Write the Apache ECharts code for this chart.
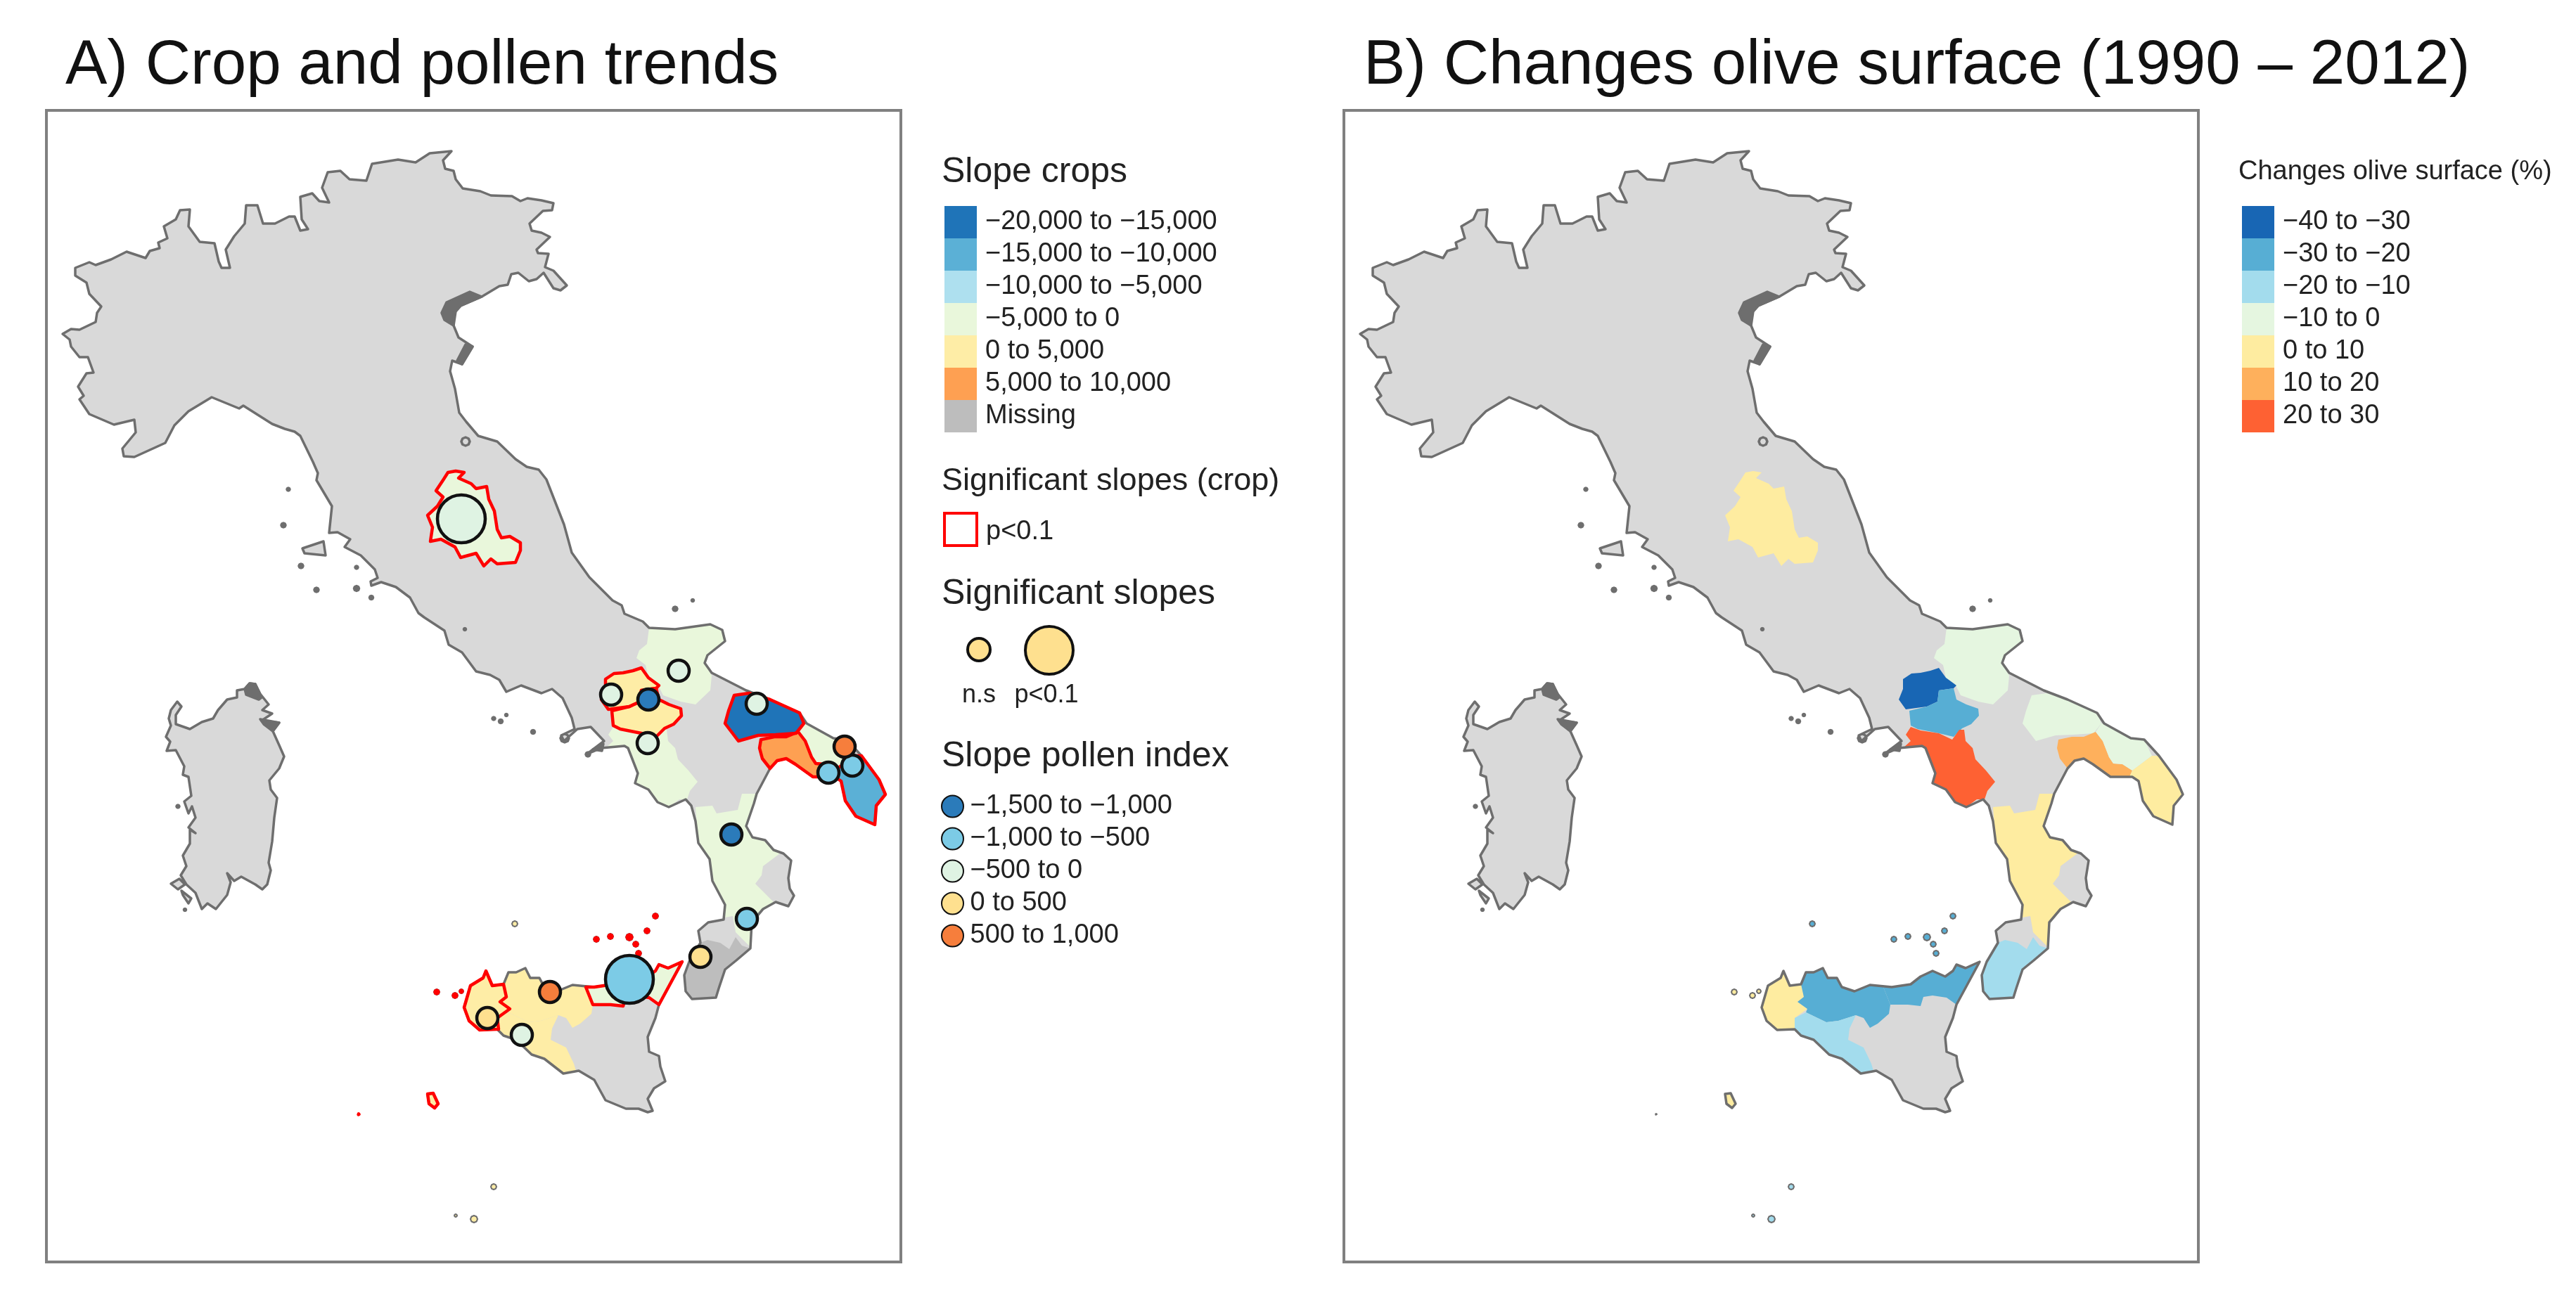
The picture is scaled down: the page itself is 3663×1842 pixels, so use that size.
<!DOCTYPE html>
<html lang="en">
<head>
<meta charset="UTF-8">
<title>Crop and pollen trends</title>
<script src="https://cdn.jsdelivr.net/npm/echarts@6/dist/echarts.min.js"></script>
<style>
  html, body { margin: 0; padding: 0; background: #fff; }
  #main { width: 3663px; height: 1842px; }
</style>
</head>
<body>
<div id="main"></div>
<script>
// province values (class middles, the maps only show classes)
var provinceNames = ['Perugia', 'Foggia', 'Benevento', 'Avellino', 'Salerno', 'Bari', 'Taranto', 'Brindisi', 'Lecce', 'Cosenza', 'Reggio Calabria', 'Trapani', 'Palermo', 'Agrigento', 'Messina'];
var cropSlope = [-2500, -2500, 2500, 2500, -2500, -17500, 7500, -2500, -12500, -2500, null, 2500, 2500, 2500, -2500];
var oliveChange = [5, -5, -35, -25, 25, -5, 15, -5, 5, 5, -15, 5, -25, -15, -25];
var cropSignificant = ['Perugia', 'Benevento', 'Avellino', 'Bari', 'Taranto', 'Lecce', 'Trapani', 'Messina'];

// pollen stations, map units
var stationPos = [[656, 738], [965, 954], [869, 988], [922, 995], [921, 1057], [1076, 1001], [1201, 1062], [1212, 1089], [1178, 1099], [1040, 1187], [1062, 1307], [996, 1361], [895, 1393], [782, 1411], [693, 1448], [742, 1472]];
var stationSlope = [-250, -250, -250, -1250, -250, -250, 750, -750, -750, -1250, -750, 250, -750, 750, 250, -250];
var stationSignificant = [true, false, false, false, false, false, false, false, false, false, false, false, true, false, false, false];

// legend classes
var cropLabels = ['−20,000 to −15,000', '−15,000 to −10,000', '−10,000 to −5,000', '−5,000 to 0', '0 to 5,000', '5,000 to 10,000', 'Missing'];
var cropBreaks = [-20000, -15000, -10000, -5000, 0, 5000, 10000];
var cropColors = ['#1f74b8', '#5bb0d6', '#aee0ef', '#e9f7db', '#feeda6', '#fea052', '#bdbdbd'];
var oliveLabels = ['−40 to −30', '−30 to −20', '−20 to −10', '−10 to 0', '0 to 10', '10 to 20', '20 to 30'];
var oliveBreaks = [-40, -30, -20, -10, 0, 10, 20, 30];
var oliveColors = ['#1866b4', '#57aed4', '#a3dced', '#e5f6e0', '#feeca0', '#feb05c', '#fe6133'];
var pollenLabels = ['−1,500 to −1,000', '−1,000 to −500', '−500 to 0', '0 to 500', '500 to 1,000'];
var pollenBreaks = [-1500, -1000, -500, 0, 500, 1000];
var pollenColors = ['#2b7bba', '#7ccbe6', '#dff3e3', '#fee08f', '#f67e3c'];

// outlines, map units (y runs down the page)
var mainland = [[176,649],[174,638],[193,615],[191,597],[162,604],[127,589],[113,568],[119,563],[111,550],[123,531],[133,530],[125,508],[113,508],[101,493],[99,483],[89,475],[101,468],[113,469],[136,458],[138,445],[144,436],[127,418],[123,402],[107,392],[107,381],[127,373],[136,377],[158,369],[180,358],[207,367],[213,357],[227,353],[225,345],[238,339],[233,322],[250,312],[256,299],[270,298],[268,322],[284,344],[305,346],[311,372],[315,381],[327,381],[321,355],[333,336],[348,318],[350,292],[366,292],[374,318],[391,318],[411,308],[419,308],[427,328],[438,326],[429,312],[427,280],[444,275],[454,286],[468,288],[458,267],[466,245],[484,243],[497,255],[521,257],[529,233],[566,227],[591,231],[611,218],[642,215],[630,228],[633,240],[645,243],[648,255],[658,268],[683,272],[698,278],[728,279],[740,286],[750,282],[770,285],[787,289],[785,299],[772,300],[753,318],[756,328],[770,331],[782,337],[763,355],[765,360],[780,361],[775,380],[787,385],[806,406],[797,413],[787,410],[773,388],[763,397],[752,400],[737,388],[727,390],[722,405],[710,407],[685,422],[655,435],[648,443],[645,463],[652,480],[672,493],[657,518],[643,513],[640,528],[647,553],[653,587],[663,600],[680,620],[707,628],[733,653],[749,664],[766,668],[777,682],[802,746],[813,786],[838,821],[871,854],[884,861],[888,873],[914,884],[923,893],[960,895],[1010,888],[1027,896],[1031,912],[1006,932],[1002,943],[1012,957],[1061,982],[1095,995],[1137,1014],[1147,1029],[1185,1050],[1204,1052],[1225,1075],[1250,1109],[1259,1130],[1246,1146],[1244,1173],[1217,1161],[1202,1139],[1196,1111],[1187,1105],[1156,1105],[1131,1087],[1118,1079],[1105,1082],[1095,1093],[1076,1129],[1072,1143],[1061,1175],[1070,1191],[1088,1195],[1100,1209],[1114,1214],[1125,1224],[1121,1249],[1123,1264],[1129,1274],[1121,1289],[1103,1283],[1085,1293],[1069,1312],[1067,1349],[1047,1366],[1031,1379],[1022,1406],[1018,1419],[984,1421],[975,1410],[973,1387],[980,1368],[996,1341],[993,1324],[1007,1312],[1029,1308],[1031,1287],[1013,1253],[1009,1222],[993,1199],[989,1168],[983,1146],[975,1137],[951,1148],[935,1141],[922,1123],[903,1114],[907,1100],[893,1064],[888,1061],[855,1064],[834,1073],[859,1054],[840,1034],[821,1037],[802,1054],[798,1046],[817,1037],[813,1021],[800,993],[785,980],[770,986],[741,975],[720,984],[710,967],[697,960],[677,955],[657,928],[638,917],[632,897],[603,878],[595,872],[583,850],[563,835],[542,828],[528,833],[527,827],[537,822],[533,810],[513,790],[490,778],[498,767],[480,757],[468,758],[472,720],[450,683],[452,673],[445,657],[427,620],[419,614],[405,610],[387,603],[346,577],[340,581],[301,565],[268,585],[248,605],[235,630],[191,650]];
var sicily = [[970,1368],[950,1377],[937,1372],[932,1381],[921,1389],[903,1381],[886,1389],[872,1400],[845,1404],[814,1401],[792,1410],[774,1404],[767,1391],[754,1391],[747,1377],[734,1383],[723,1383],[716,1400],[700,1402],[691,1381],[687,1391],[669,1402],[660,1433],[667,1452],[682,1465],[707,1464],[716,1473],[734,1479],[756,1500],[774,1506],[801,1527],[823,1523],[845,1536],[861,1565],[890,1577],[908,1577],[921,1582],[928,1580],[921,1563],[930,1548],[946,1538],[939,1517],[937,1502],[923,1496],[921,1475],[932,1448],[937,1429]];
var sardinia = [[243,1032],[240,1022],[243,1010],[252,998],[258,1005],[250,1017],[250,1030],[270,1037],[287,1027],[303,1022],[310,1010],[323,995],[337,992],[337,982],[348,980],[355,972],[363,973],[370,987],[382,1002],[373,1010],[387,1015],[372,1025],[397,1028],[388,1040],[397,1060],[404,1076],[397,1093],[383,1110],[385,1123],[394,1135],[390,1163],[387,1197],[382,1227],[385,1238],[380,1258],[373,1265],[363,1258],[343,1247],[333,1253],[323,1242],[328,1255],[323,1273],[307,1293],[295,1285],[287,1293],[278,1270],[265,1258],[257,1245],[265,1232],[260,1217],[270,1200],[270,1180],[278,1185],[268,1177],[278,1163],[273,1147],[268,1157],[262,1140],[272,1132],[268,1105],[260,1102],[262,1090],[250,1067],[237,1068],[242,1055],[236,1048]];
var santAntioco = [[243,1257],[255,1250],[263,1258],[253,1265]];
var sanPietro = [[258,1267],[272,1278],[268,1285],[260,1273]];
var elba = [[430,780],[460,770],[463,790],[433,787]];
var pantelleria = [[608,1556],[616,1555],[623,1570],[618,1576],[610,1570]];
// small islands as [x, y, radius]
var ringIslands = [[662,628,6],[803,1050,6]];
var smallIslands = [[410,696,2],[403,747,3],[428,805,3],[450,839,3],[507,837,3.5],[528,850,2.5],[507,807,2],[661,895,1.5],[702,1022,2],[712,1026,2.5],[720,1017,1.5],[758,1041,2.5],[836,1073,3],[960,866,3],[985,854,1.5],[253,1147,2],[263,1294,1.5]];
var trapaniIslands = [[621,1411,4],[647,1416,4],[656,1410,3],[510,1585,1]];
var palermoIslands = [[732,1314,4]];
var agrigentoIslands = [[702,1688,4],[648,1729,2],[674,1734,5]];
var messinaIslands = [[848,1336,4],[868,1332,4],[895,1333,5],[904,1343,4],[908,1356,4],[920,1324,4],[932,1303,4]];
var darkLagoons = [[[668,415],[685,422],[655,435],[645,445],[645,463],[632,455],[628,445],[635,430]], [[672,493],[657,518],[650,513],[662,490]], [[348,980],[355,972],[363,973],[372,992],[368,995],[350,988]], [[370,1023],[397,1028],[388,1040],[375,1030]], [[843,1066],[858,1058],[856,1068]]];
var provinceShapes = {
  'Perugia': [[[637,672],[648,670],[660,672],[652,680],[670,688],[677,695],[692,692],[695,710],[703,727],[707,753],[713,765],[725,763],[740,772],[740,783],[733,800],[707,802],[698,795],[688,805],[677,787],[655,793],[647,778],[627,767],[612,770],[615,750],[608,733],[622,720],[630,707],[620,698],[630,683]]],
  'Foggia': [[[923,893],[960,895],[1010,888],[1027,896],[1031,912],[1006,932],[1002,943],[1012,961],[1010,982],[989,1002],[968,998],[943,989],[935,973],[922,964],[918,946],[905,936],[909,925],[920,916]]],
  'Benevento': [[[861,966],[873,958],[886,957],[900,954],[912,950],[922,964],[937,975],[933,979],[912,982],[910,998],[895,1005],[865,1009],[855,995],[861,980]]],
  'Avellino': [[[912,982],[933,979],[937,995],[951,1002],[968,1008],[969,1018],[958,1030],[945,1036],[933,1048],[912,1043],[882,1037],[872,1032],[870,1011],[895,1005],[910,998]]],
  'Salerno': [[[872,1034],[886,1039],[912,1043],[931,1052],[941,1038],[948,1038],[950,1054],[960,1064],[964,1080],[979,1096],[992,1112],[981,1125],[977,1137],[966,1137],[951,1148],[935,1141],[922,1123],[903,1114],[907,1100],[893,1064],[888,1061],[861,1064],[872,1054],[865,1045]]],
  'Bari': [[[1044,989],[1065,986],[1095,995],[1137,1014],[1143,1029],[1132,1043],[1103,1045],[1078,1046],[1050,1054],[1031,1029],[1036,1011]]],
  'Taranto': [[[1082,1052],[1101,1048],[1118,1048],[1135,1041],[1145,1054],[1154,1077],[1160,1086],[1173,1087],[1187,1096],[1183,1105],[1156,1105],[1131,1087],[1118,1079],[1105,1082],[1095,1093],[1084,1079],[1080,1064]]],
  'Brindisi': [[[1143,1029],[1147,1029],[1185,1050],[1204,1052],[1215,1075],[1187,1096],[1173,1087],[1160,1086],[1154,1077],[1145,1054],[1135,1041]]],
  'Lecce': [[[1215,1075],[1225,1075],[1250,1109],[1259,1130],[1246,1146],[1244,1173],[1217,1161],[1202,1139],[1196,1111],[1187,1105],[1183,1105],[1187,1096]]],
  'Cosenza': [[[989,1148],[1013,1146],[1019,1157],[1049,1152],[1055,1129],[1076,1129],[1072,1143],[1061,1175],[1070,1191],[1088,1195],[1100,1209],[1109,1214],[1085,1232],[1083,1245],[1074,1257],[1085,1268],[1100,1283],[1085,1293],[1069,1312],[1067,1347],[1055,1335],[1046,1326],[1042,1303],[1031,1305],[1031,1287],[1013,1253],[1009,1222],[993,1199]]],
  'Reggio Calabria': [[[1006,1337],[1024,1341],[1037,1350],[1046,1333],[1055,1345],[1067,1349],[1047,1366],[1031,1379],[1022,1406],[1018,1419],[984,1421],[975,1410],[973,1387],[980,1368],[996,1341]]],
  'Trapani': [[[716,1400],[720,1418],[711,1425],[725,1435],[707,1448],[709,1464],[707,1464],[682,1465],[667,1452],[660,1433],[669,1402],[687,1391],[691,1381],[700,1402]], pantelleria],
  'Palermo': [[[716,1400],[723,1383],[734,1383],[747,1377],[754,1391],[767,1391],[774,1404],[792,1410],[814,1401],[833,1404],[843,1429],[841,1442],[825,1456],[814,1462],[805,1448],[794,1444],[769,1452],[752,1454],[723,1440],[725,1435],[711,1425],[720,1418]]],
  'Agrigento': [[[707,1448],[723,1440],[752,1454],[769,1452],[794,1444],[785,1463],[783,1479],[805,1490],[816,1513],[819,1523],[801,1527],[774,1506],[756,1500],[734,1479],[716,1473],[707,1464]]],
  'Messina': [[[833,1404],[845,1404],[872,1400],[886,1389],[903,1381],[921,1389],[932,1381],[937,1372],[950,1377],[970,1368],[937,1429],[923,1419],[903,1416],[890,1418],[886,1431],[868,1429],[843,1429]]]
};

function toGeo(p) { return [p[0], -p[1]]; }
function closeRing(ring) {
  var out = ring.map(toGeo);
  out.push(out[0].slice());
  return out;
}
function islandRing(d) {
  var ring = [];
  for (var i = 0; i < 8; i++) {
    ring.push([d[0] + d[2] * Math.cos(i * Math.PI / 4), d[1] + d[2] * Math.sin(i * Math.PI / 4)]);
  }
  return ring;
}
function feature(name, rings) {
  return {
    type: 'Feature',
    properties: { name: name },
    geometry: { type: 'MultiPolygon', coordinates: rings.map(function (r) { return [closeRing(r)]; }) }
  };
}
var islandSets = { 'Trapani': trapaniIslands, 'Palermo': palermoIslands, 'Agrigento': agrigentoIslands, 'Messina': messinaIslands };
function provinceRings(name) {
  return provinceShapes[name].concat((islandSets[name] || []).map(islandRing));
}
var provinceIslets = trapaniIslands.concat(palermoIslands, agrigentoIslands, messinaIslands);
var redIslets = trapaniIslands.concat(messinaIslands).map(function (d) { return [d[0], d[1], Math.max(d[2] - 1.5, 0.6)]; });
var landRings = [mainland, sicily, sardinia, santAntioco, sanPietro, elba, pantelleria].concat(ringIslands.map(islandRing));

var fillMap = { type: 'FeatureCollection', features: [feature('Land', landRings)].concat(provinceNames.map(function (n) { return feature(n, provinceRings(n)); })) };
// two map series on one registered map get merged, so each panel has its own name
echarts.registerMap('italy-fill-a', fillMap);
echarts.registerMap('italy-fill-b', fillMap);
echarts.registerMap('italy-coast', { type: 'FeatureCollection', features: [
  feature('Land', landRings), feature('Lagoons', darkLagoons),
  feature('Islets', smallIslands.map(islandRing)), feature('ProvinceIslets', provinceIslets.map(islandRing))
] });
echarts.registerMap('italy-sig', { type: 'FeatureCollection', features: cropSignificant.map(function (n) {
  return feature(n, provinceShapes[n]);
}).concat([feature('RedIslets', redIslets.map(islandRing))]) });

var FONT = '"Liberation Sans", Arial, sans-serif';
var TEXT_COLOR = '#222';
var MISSING = 99999;
var COAST = '#6e6e6e';
var panelTop = 157, panelWidth = 1215, panelHeight = 1638;
var panelALeft = 66, panelBLeft = 1911;
var mapBounds = [toGeo([66, 157]), toGeo([1281, 1795])];
var coastRegions = [
  { name: 'Lagoons', itemStyle: { areaColor: COAST } },
  { name: 'Islets', itemStyle: { areaColor: COAST } },
  { name: 'ProvinceIslets', itemStyle: { borderWidth: 2 } }
];

function head(text, left, top, size, align) {
  return {
    text: text, left: left, top: top, padding: 0, textAlign: align || 'left',
    textStyle: { fontFamily: FONT, fontWeight: 'normal', fontSize: size, color: size > 60 ? '#111' : TEXT_COLOR }
  };
}
function mapBox(left) {
  return { left: left, top: panelTop, width: panelWidth, height: panelHeight, aspectScale: 1, boundingCoords: mapBounds, roam: false, silent: true };
}
function fillSeries(left, mapName, values) {
  return Object.assign(mapBox(left), {
    type: 'map', map: mapName, z: 1, selectedMode: false, showLegendSymbol: false,
    label: { show: false }, emphasis: { disabled: true },
    itemStyle: { areaColor: '#d9d9d9', borderWidth: 0 },
    data: provinceNames.map(function (n, i) { return { name: n, value: values[i] === null ? MISSING : values[i] }; })
  });
}
function lineGeo(left, map, color, width, z, regions) {
  return Object.assign(mapBox(left), {
    map: map, z: z, label: { show: false }, emphasis: { disabled: true }, select: { disabled: true },
    itemStyle: { areaColor: 'rgba(0,0,0,0)', borderColor: color, borderWidth: width, borderJoin: 'round' },
    regions: regions
  });
}
function piecesFrom(labels, breaks, colors) {
  return labels.map(function (label, i) {
    if (label === 'Missing') return { value: MISSING, label: label, color: colors[i] };
    return { min: breaks[i], max: breaks[i + 1], label: label, color: colors[i] };
  });
}
function classMap(left, top, seriesIndex, pieces) {
  return {
    type: 'piecewise', seriesIndex: seriesIndex, left: left, top: top, padding: 0, inverse: true,
    orient: 'vertical', align: 'left', itemWidth: 46, itemHeight: 46, itemGap: 0, textGap: 12,
    itemSymbol: 'rect', selectedMode: false, hoverLink: false, showLabel: true,
    pieces: pieces, outOfRange: { color: '#d9d9d9' },
    textStyle: { fontFamily: FONT, fontSize: 38, color: TEXT_COLOR }
  };
}
var pollenSeries = pollenLabels.map(function (label, c) {
  var data = [];
  stationPos.forEach(function (p, i) {
    if (stationSlope[i] >= pollenBreaks[c] && stationSlope[i] < pollenBreaks[c + 1]) {
      data.push({ value: toGeo(p), symbolSize: stationSignificant[i] ? 68 : 30 });
    }
  });
  return {
    type: 'scatter', name: label, coordinateSystem: 'geo', geoIndex: 0, z: 6, silent: true,
    symbol: 'circle', data: data,
    itemStyle: { color: pollenColors[c], borderColor: '#111', borderWidth: 4.5, opacity: 1 }
  };
});

var chart = echarts.init(document.getElementById('main'));
chart.setOption({
  animation: false,
  backgroundColor: '#fff',
  title: [
    head('A) Crop and pollen trends', 93, 50, 89),
    head('B) Changes olive surface (1990 – 2012)', 1939, 50, 89),
    head('Slope crops', 1339, 220, 50),
    head('Significant slopes (crop)', 1339, 662, 45),
    head('p<0.1', 1402, 738, 38),
    head('Significant slopes', 1339, 820, 50),
    head('n.s', 1392, 971, 36, 'center'),
    head('p<0.1', 1488, 971, 36, 'center'),
    head('Slope pollen index', 1339, 1051, 50),
    head('Changes olive surface (%)', 3183, 226, 38)
  ],
  geo: [
    lineGeo(panelALeft, 'italy-coast', COAST, 3.5, 3, coastRegions),
    lineGeo(panelALeft, 'italy-sig', '#ff0000', 4.5, 4, [{ name: 'RedIslets', itemStyle: { areaColor: '#ff0000' } }]),
    lineGeo(panelBLeft, 'italy-coast', COAST, 3.5, 3, coastRegions)
  ],
  visualMap: [
    classMap(1343, 293, 0, piecesFrom(cropLabels, cropBreaks, cropColors)),
    classMap(3188, 293, 1, piecesFrom(oliveLabels, oliveBreaks, oliveColors))
  ],
  legend: {
    orient: 'vertical', left: 1338, top: 1128, padding: 0,
    data: pollenLabels, icon: 'circle', itemWidth: 40, itemHeight: 31, itemGap: 8, selectedMode: false,
    textStyle: { fontFamily: FONT, fontSize: 38, color: TEXT_COLOR }
  },
  series: [fillSeries(panelALeft, 'italy-fill-a', cropSlope), fillSeries(panelBLeft, 'italy-fill-b', oliveChange)].concat(pollenSeries),
  graphic: [
    { type: 'rect', z: 0, shape: { x: panelALeft, y: panelTop, width: panelWidth, height: panelHeight }, style: { fill: 'none', stroke: '#808080', lineWidth: 4 } },
    { type: 'rect', z: 0, shape: { x: panelBLeft, y: panelTop, width: panelWidth, height: panelHeight }, style: { fill: 'none', stroke: '#808080', lineWidth: 4 } },
    { type: 'rect', z: 0, shape: { x: 1343, y: 730, width: 46, height: 46 }, style: { fill: 'none', stroke: '#ff0000', lineWidth: 4 } },
    { type: 'circle', z: 0, shape: { cx: 1392, cy: 924, r: 16 }, style: { fill: '#fee08f', stroke: '#111', lineWidth: 4 } },
    { type: 'circle', z: 0, shape: { cx: 1492, cy: 925, r: 34 }, style: { fill: '#fee08f', stroke: '#111', lineWidth: 4 } }
  ]
});
</script>
</body>
</html>
